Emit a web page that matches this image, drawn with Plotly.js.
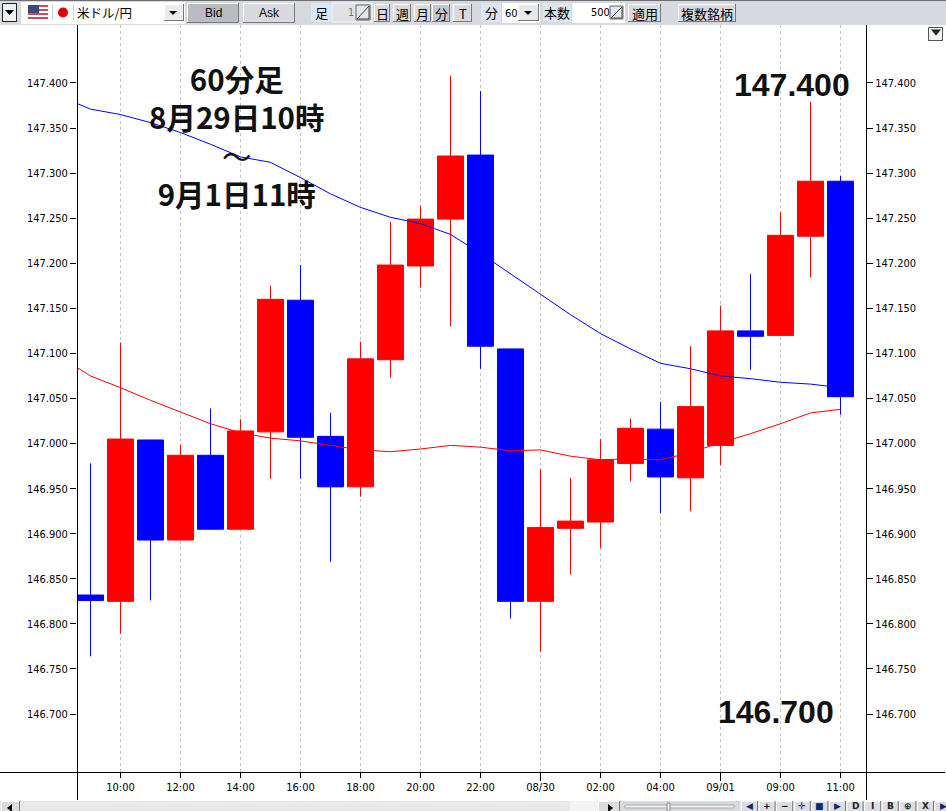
<!DOCTYPE html>
<html><head><meta charset="utf-8">
<script src="https://cdn.plot.ly/plotly-3.0.1.min.js"></script>
<style>html,body{margin:0;padding:0;background:#fff;overflow:hidden}#c{width:946px;height:811px}</style>
</head><body><div id="c"></div>
<script>
// ---- chart data ----
const barIndex = [0,1,2,3,4,5,6,7,8,9,10,11,12,13,14,15,16,17,18,19,20,21,22,23,24,25];
const opens  = [146.832,146.825,147.004,146.893,146.987,146.905,147.013,147.159,147.008,146.952,147.093,147.197,147.249,147.320,147.105,146.825,146.906,146.913,146.978,147.016,146.962,146.998,147.125,147.120,147.230,147.291];
const closes = [146.826,147.005,146.893,146.987,146.905,147.014,147.160,147.007,146.952,147.094,147.198,147.249,147.319,147.108,146.825,146.907,146.914,146.982,147.017,146.963,147.041,147.125,147.119,147.231,147.291,147.052];
const highs  = [146.978,147.112,147.004,146.999,147.039,147.027,147.175,147.198,147.034,147.113,147.246,147.264,147.408,147.391,147.105,146.972,146.962,147.005,147.028,147.046,147.108,147.153,147.188,147.257,147.379,147.297];
const lows   = [146.764,146.789,146.826,146.893,146.905,146.905,146.961,146.961,146.869,146.941,147.073,147.173,147.130,147.083,146.806,146.769,146.855,146.884,146.958,146.923,146.925,146.976,147.082,147.120,147.184,147.032];
const maX     = [-0.43,0,1,2,3,4,5,6,7,8,9,10,11,12,13,14,15,16,17,18,19,20,21,22,23,24,25];
const maBlue  = [147.377,147.371,147.365,147.356,147.345,147.332,147.318,147.312,147.295,147.277,147.262,147.251,147.244,147.232,147.211,147.188,147.165,147.143,147.122,147.105,147.089,147.083,147.075,147.072,147.068,147.066,147.062];
const maRed   = [147.084,147.075,147.062,147.048,147.035,147.022,147.012,147.006,147.003,146.998,146.993,146.991,146.994,146.998,146.996,146.992,146.993,146.986,146.982,146.983,146.982,146.990,147.001,147.011,147.022,147.034,147.038];
const xTickVals  = [1,3,5,7,9,11,13,15,17,19,21,23,25];
const xTickText  = ['10:00','12:00','14:00','16:00','18:00','20:00','22:00','08/30','02:00','04:00','09/01','09:00','11:00'];
const yTickVals  = [146.7,146.75,146.8,146.85,146.9,146.95,147,147.05,147.1,147.15,147.2,147.25,147.3,147.35,147.4];
const dateTickVals = [15,21];
const titleLines = ['60分足','8月29日10時','<span style="font-weight:normal">～</span>','9月1日11時'];
const bigLabels  = ['147.400','146.700'];

// ---- helpers for toolbar chrome (pixel -> paper) ----
const L=77,R=866,T=25,B=772;
const fx=p=>(p-L)/(R-L), fy=p=>(B-p)/(B-T);
const shapes=[], annos=[];
const narrow='"DejaVu Sans Condensed","DejaVu Sans Mono",monospace';
function rect(x0,y0,x1,y1,fill,line,lw){shapes.push({type:'rect',xref:'paper',yref:'paper',x0:fx(x0),x1:fx(x1),y0:fy(y1),y1:fy(y0),fillcolor:fill,line:{color:line||fill,width:line?(lw||1):0},layer:'above'});}
function seg(x0,y0,x1,y1,c,w){shapes.push({type:'line',xref:'paper',yref:'paper',x0:fx(x0),x1:fx(x1),y0:fy(y0),y1:fy(y1),line:{color:c,width:w||1},layer:'above'});}
function poly(pts,c){shapes.push({type:'path',xref:'paper',yref:'paper',path:'M'+pts.map(p=>fx(p[0])+','+fy(p[1])).join('L')+'Z',fillcolor:c,line:{color:c,width:0},layer:'above'});}
function txt(x,y,s,size,color,family,weight,anchor){annos.push({xref:'paper',yref:'paper',x:fx(x),y:fy(y),text:s,showarrow:false,xanchor:anchor||'center',yanchor:'middle',borderpad:0,font:{size:size,color:color||'#000',family:family||'"Noto Sans CJK JP"',weight:weight||'normal'}});}
function btn(x0,y0,x1,y1,fill){rect(x0,y0,x1,y1,fill||'#d8dade');seg(x0+.5,y0+.5,x1,y0+.5,'#ffffff');seg(x0+.5,y0+.5,x0+.5,y1,'#ffffff');seg(x1-.5,y0,x1-.5,y1,'#77797c');seg(x0,y1-.5,x1,y1-.5,'#77797c');}
function tri(cx,cy,w,h,c){poly([[cx-w/2,cy-h/2],[cx+w/2,cy-h/2],[cx,cy+h/2]],c||'#000');}
function spin(x0,y0,x1,y1){rect(x0,y0,x1,y1,'#e4e5e8','#666');seg(x0+1,y1-1,x1-1,y0+1,'#444');seg(x0+1,y1-1,x1-1,y1-1,'#444');seg(x1-1,y0+1,x1-1,y1-1,'#444');}

// toolbar background
rect(0,0,946,25,'#d6d9de');
seg(0,0.5,946,0.5,'#6f6f6f');
btn(2,3,17,22,'#f0f0f0');rect(2.5,3.5,16.5,21.5,'rgba(0,0,0,0)','#222');tri(9.5,12.5,9,5);
rect(21,2,185,24,'#ffffff');
// flags
rect(28,5,48,20,'#ffffff');
for(let i=0;i<4;i++)rect(28,5+i*4,48,7+i*4,'#c8505a');
rect(28,5,39,13,'#3c4a80');
seg(52.5,5,52.5,20,'#d0d0d0');seg(73.5,5,73.5,20,'#d0d0d0');
shapes.push({type:'circle',xref:'paper',yref:'paper',x0:fx(58),x1:fx(68),y0:fy(17.5),y1:fy(7.5),fillcolor:'#e00000',line:{width:0},layer:'above'});
txt(104.5,12,'米ドル/円',12.5);
btn(164,4,184,21,'#ececec');tri(173,13,8,4);
btn(187,3,239,23,'#b9bcc0');txt(213,13,'Bid',12,'#000','"Liberation Sans"');
btn(243,3,295,23,'#d8dade');txt(269,13,'Ask',12,'#000','"Liberation Sans"');
rect(311,3,331,22,'#dde7f2');txt(321,12.5,'足',13);
rect(332,3,372,22,'#dfe1e5','#f5f5f5');txt(351,12,'1',11,'#777',narrow);
spin(356,5,370,20);
[[374,390,'日'],[393,411,'週'],[414,431,'月'],[432,450,'分',1],[453,472,'T']].forEach(b=>{btn(b[0],4,b[1],22,b[3]?'#c4c6ca':'#d8dade');txt((b[0]+b[1])/2,13,b[2],13);});
rect(481,3,501,22,'#dde7f2');txt(491,12.5,'分',13);
rect(502,3,540,23,'#ffffff');txt(511,13,'60',11,'#000',narrow);btn(518,4,539,21,'#e8e8e8');tri(528,13,8,4);
rect(543,3,571,22,'#dde7f2');txt(557,12.5,'本数',13);
rect(572,3,625,23,'#ffffff');txt(600,12.5,'500',11,'#000',narrow);
spin(610,6,623,19);
btn(628,4,661,22);txt(644.5,13,'適用',13);
btn(678,4,736,22);txt(707,13,'複数銘柄',13);
btn(928,27,943,41,'#f0f0f0');rect(928.5,27.5,942.5,40.5,'rgba(0,0,0,0)','#555');tri(936,32.5,10,6,'#222');

// bottom scrollbar
rect(0,801,946,811,'#e8e8e8');
btn(1,801,20,814,'#dcdcdc');poly([[12,804],[12,812],[7,808]],'#000');
rect(570,801,598,811,'#f4f4f4');
btn(598,801,620,814,'#dcdcdc');poly([[608,804],[608,812],[613,808]],'#000');
rect(620,801,740,811,'#d8dade');
rect(625,805,734,808,'#f0f0f0','#aaaaaa');rect(667,803,670,811,'#f0f0f0','#888');
[['◀','#0a2a7a'],['+','#000'],['−','#000'],['✛','#0a2a7a'],['■','#0a2a7a'],['▶','#0a2a7a'],['D','#222'],['I','#222'],['B','#222'],['⊕','#222'],['X','#222'],['▶','#0a2a7a']].forEach((b,i)=>{
  const x0=741+i*17.6;btn(x0,801,x0+17,816,'#dcdde0');
  txt(x0+8.5,806,b[0],9,b[1],'"DejaVu Sans"','bold');
});

// frame lines that run beyond the plot area
seg(0,772.5,945,772.5,'#000');
seg(77.5,25,77.5,800,'#000');
seg(866.5,25,866.5,800,'#000');

// longer ticks for the date labels
dateTickVals.forEach(v=>shapes.push({type:'line',xref:'x',yref:'paper',x0:v,x1:v,y0:fy(772),y1:fy(781),line:{color:'#000',width:1},layer:'above'}));

// big text
annos.push({xref:'paper',yref:'paper',x:fx(237),y:fy(136),text:titleLines.join('<br>'),showarrow:false,xanchor:'center',yanchor:'middle',align:'center',font:{size:29.5,color:'#111',family:'"Noto Sans CJK JP"',weight:'bold'}});
annos.push(...[[792,85,0],[776,712,1]].map(a=>({xref:'paper',yref:'paper',x:fx(a[0]),y:fy(a[1]),text:bigLabels[a[2]],showarrow:false,xanchor:'center',yanchor:'middle',font:{size:32,color:'#111',family:'"Liberation Sans"',weight:'bold'}})));

const tickFont={family:narrow,size:11,color:'#000'};
const yRange=[146.6357,147.4643];
const data=[
 {type:'scatter',mode:'lines',x:maX,y:maBlue,line:{color:'#0000ff',width:1},hoverinfo:'skip',showlegend:false},
 {type:'scatter',mode:'lines',x:maX,y:maRed,line:{color:'#ff0000',width:1},hoverinfo:'skip',showlegend:false},
 {type:'candlestick',x:barIndex,open:opens,high:highs,low:lows,close:closes,
  increasing:{line:{color:'#ff0000',width:1},fillcolor:'#ff0000'},
  decreasing:{line:{color:'#0000ff',width:1},fillcolor:'#0000ff'},whiskerwidth:0,hoverinfo:'skip',showlegend:false},
 {type:'scatter',mode:'lines',x:[barIndex[0]],y:[yTickVals[0]],yaxis:'y2',line:{width:0},hoverinfo:'skip',showlegend:false}
];
const layout={
 width:946,height:811,margin:{l:L,r:946-R,t:T,b:811-B,pad:0},
 paper_bgcolor:'#fff',plot_bgcolor:'#fff',showlegend:false,dragmode:false,hovermode:false,boxgap:0.133,boxgroupgap:0,
 xaxis:{range:[-0.45,25.85],type:'linear',tickmode:'array',tickvals:xTickVals,ticktext:xTickText,ticks:'outside',ticklen:5,tickcolor:'#000',tickfont:tickFont,
   showgrid:true,gridcolor:'#c4c4c4',griddash:'3px,3px',gridwidth:1,zeroline:false,showline:false,rangeslider:{visible:false}},
 yaxis:{range:yRange,tickmode:'array',tickvals:yTickVals,ticktext:yTickVals.map(v=>v.toFixed(3)),ticks:'outside',ticklen:6,tickcolor:'#000',tickfont:tickFont,showgrid:false,zeroline:false,showline:false},
 yaxis2:{range:yRange,overlaying:'y',side:'right',tickmode:'array',tickvals:yTickVals,ticktext:yTickVals.map(v=>v.toFixed(3)),ticks:'outside',ticklen:6,tickcolor:'#000',tickfont:tickFont,showgrid:false,zeroline:false,showline:false},
 shapes:shapes,annotations:annos
};
Plotly.newPlot('c',data,layout,{displayModeBar:false,staticPlot:true});
</script></body></html>
